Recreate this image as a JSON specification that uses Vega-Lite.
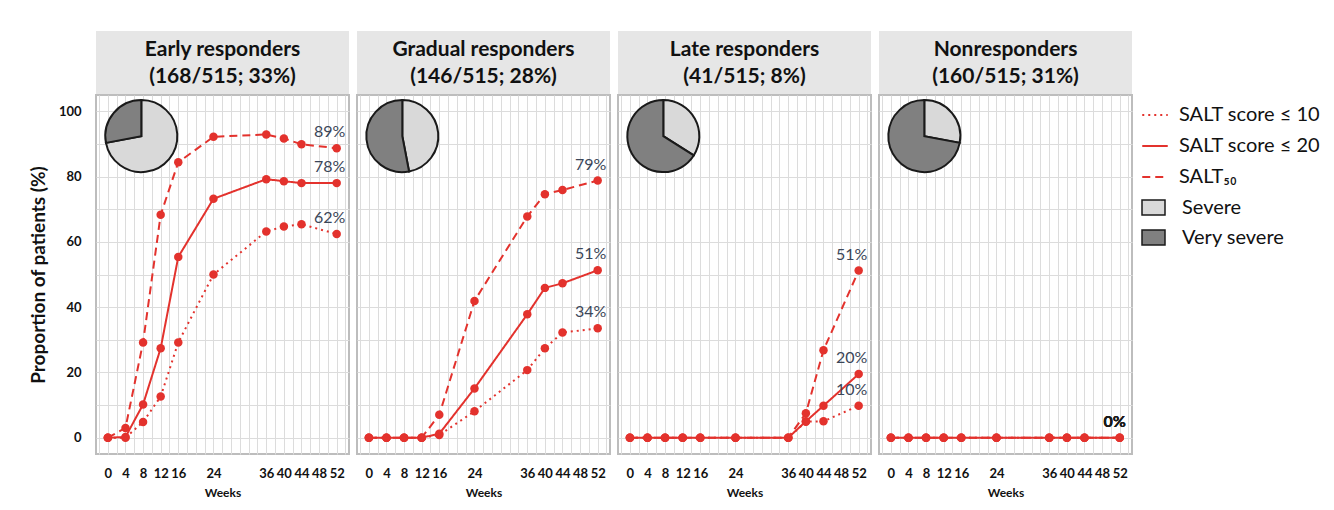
{
  "$schema": "https://vega.github.io/schema/vega-lite/v6.json",
  "padding": {"left": 28, "top": 31, "right": 0, "bottom": 0},
  "background": "white",
  "datasets": {
    "series": [
      {"group":"Early","measure":"SALT score ≤ 10","week":0,"value":0},
      {"group":"Early","measure":"SALT score ≤ 10","week":4,"value":0},
      {"group":"Early","measure":"SALT score ≤ 10","week":8,"value":4.8},
      {"group":"Early","measure":"SALT score ≤ 10","week":12,"value":12.6},
      {"group":"Early","measure":"SALT score ≤ 10","week":16,"value":29.2},
      {"group":"Early","measure":"SALT score ≤ 10","week":24,"value":50.0},
      {"group":"Early","measure":"SALT score ≤ 10","week":36,"value":63.2},
      {"group":"Early","measure":"SALT score ≤ 10","week":40,"value":64.7},
      {"group":"Early","measure":"SALT score ≤ 10","week":44,"value":65.4},
      {"group":"Early","measure":"SALT score ≤ 10","week":52,"value":62.4},
      {"group":"Early","measure":"SALT score ≤ 20","week":0,"value":0},
      {"group":"Early","measure":"SALT score ≤ 20","week":4,"value":0.2},
      {"group":"Early","measure":"SALT score ≤ 20","week":8,"value":10.2},
      {"group":"Early","measure":"SALT score ≤ 20","week":12,"value":27.4},
      {"group":"Early","measure":"SALT score ≤ 20","week":16,"value":55.4},
      {"group":"Early","measure":"SALT score ≤ 20","week":24,"value":73.2},
      {"group":"Early","measure":"SALT score ≤ 20","week":36,"value":79.2},
      {"group":"Early","measure":"SALT score ≤ 20","week":40,"value":78.6},
      {"group":"Early","measure":"SALT score ≤ 20","week":44,"value":78.0},
      {"group":"Early","measure":"SALT score ≤ 20","week":52,"value":78.0},
      {"group":"Early","measure":"SALT₅₀","week":0,"value":0},
      {"group":"Early","measure":"SALT₅₀","week":4,"value":3.0},
      {"group":"Early","measure":"SALT₅₀","week":8,"value":29.2},
      {"group":"Early","measure":"SALT₅₀","week":12,"value":68.3},
      {"group":"Early","measure":"SALT₅₀","week":16,"value":84.4},
      {"group":"Early","measure":"SALT₅₀","week":24,"value":92.2},
      {"group":"Early","measure":"SALT₅₀","week":36,"value":92.9},
      {"group":"Early","measure":"SALT₅₀","week":40,"value":91.7},
      {"group":"Early","measure":"SALT₅₀","week":44,"value":89.9},
      {"group":"Early","measure":"SALT₅₀","week":52,"value":88.7},

      {"group":"Gradual","measure":"SALT score ≤ 10","week":0,"value":0},
      {"group":"Gradual","measure":"SALT score ≤ 10","week":4,"value":0},
      {"group":"Gradual","measure":"SALT score ≤ 10","week":8,"value":0},
      {"group":"Gradual","measure":"SALT score ≤ 10","week":12,"value":0},
      {"group":"Gradual","measure":"SALT score ≤ 10","week":16,"value":0.8},
      {"group":"Gradual","measure":"SALT score ≤ 10","week":24,"value":8.1},
      {"group":"Gradual","measure":"SALT score ≤ 10","week":36,"value":20.7},
      {"group":"Gradual","measure":"SALT score ≤ 10","week":40,"value":27.4},
      {"group":"Gradual","measure":"SALT score ≤ 10","week":44,"value":32.2},
      {"group":"Gradual","measure":"SALT score ≤ 10","week":52,"value":33.5},
      {"group":"Gradual","measure":"SALT score ≤ 20","week":0,"value":0},
      {"group":"Gradual","measure":"SALT score ≤ 20","week":4,"value":0},
      {"group":"Gradual","measure":"SALT score ≤ 20","week":8,"value":0},
      {"group":"Gradual","measure":"SALT score ≤ 20","week":12,"value":0},
      {"group":"Gradual","measure":"SALT score ≤ 20","week":16,"value":1.2},
      {"group":"Gradual","measure":"SALT score ≤ 20","week":24,"value":15.1},
      {"group":"Gradual","measure":"SALT score ≤ 20","week":36,"value":37.8},
      {"group":"Gradual","measure":"SALT score ≤ 20","week":40,"value":45.9},
      {"group":"Gradual","measure":"SALT score ≤ 20","week":44,"value":47.3},
      {"group":"Gradual","measure":"SALT score ≤ 20","week":52,"value":51.3},
      {"group":"Gradual","measure":"SALT₅₀","week":0,"value":0},
      {"group":"Gradual","measure":"SALT₅₀","week":4,"value":0},
      {"group":"Gradual","measure":"SALT₅₀","week":8,"value":0},
      {"group":"Gradual","measure":"SALT₅₀","week":12,"value":0},
      {"group":"Gradual","measure":"SALT₅₀","week":16,"value":7.0},
      {"group":"Gradual","measure":"SALT₅₀","week":24,"value":41.9},
      {"group":"Gradual","measure":"SALT₅₀","week":36,"value":67.8},
      {"group":"Gradual","measure":"SALT₅₀","week":40,"value":74.6},
      {"group":"Gradual","measure":"SALT₅₀","week":44,"value":75.9},
      {"group":"Gradual","measure":"SALT₅₀","week":52,"value":78.8},

      {"group":"Late","measure":"SALT score ≤ 10","week":0,"value":0},
      {"group":"Late","measure":"SALT score ≤ 10","week":4,"value":0},
      {"group":"Late","measure":"SALT score ≤ 10","week":8,"value":0},
      {"group":"Late","measure":"SALT score ≤ 10","week":12,"value":0},
      {"group":"Late","measure":"SALT score ≤ 10","week":16,"value":0},
      {"group":"Late","measure":"SALT score ≤ 10","week":24,"value":0},
      {"group":"Late","measure":"SALT score ≤ 10","week":36,"value":0},
      {"group":"Late","measure":"SALT score ≤ 10","week":40,"value":4.9},
      {"group":"Late","measure":"SALT score ≤ 10","week":44,"value":5.0},
      {"group":"Late","measure":"SALT score ≤ 10","week":52,"value":9.8},
      {"group":"Late","measure":"SALT score ≤ 20","week":0,"value":0},
      {"group":"Late","measure":"SALT score ≤ 20","week":4,"value":0},
      {"group":"Late","measure":"SALT score ≤ 20","week":8,"value":0},
      {"group":"Late","measure":"SALT score ≤ 20","week":12,"value":0},
      {"group":"Late","measure":"SALT score ≤ 20","week":16,"value":0},
      {"group":"Late","measure":"SALT score ≤ 20","week":24,"value":0},
      {"group":"Late","measure":"SALT score ≤ 20","week":36,"value":0},
      {"group":"Late","measure":"SALT score ≤ 20","week":40,"value":5.0},
      {"group":"Late","measure":"SALT score ≤ 20","week":44,"value":9.8},
      {"group":"Late","measure":"SALT score ≤ 20","week":52,"value":19.5},
      {"group":"Late","measure":"SALT₅₀","week":0,"value":0},
      {"group":"Late","measure":"SALT₅₀","week":4,"value":0},
      {"group":"Late","measure":"SALT₅₀","week":8,"value":0},
      {"group":"Late","measure":"SALT₅₀","week":12,"value":0},
      {"group":"Late","measure":"SALT₅₀","week":16,"value":0},
      {"group":"Late","measure":"SALT₅₀","week":24,"value":0},
      {"group":"Late","measure":"SALT₅₀","week":36,"value":0},
      {"group":"Late","measure":"SALT₅₀","week":40,"value":7.5},
      {"group":"Late","measure":"SALT₅₀","week":44,"value":26.8},
      {"group":"Late","measure":"SALT₅₀","week":52,"value":51.2},

      {"group":"Non","measure":"SALT score ≤ 10","week":0,"value":0},
      {"group":"Non","measure":"SALT score ≤ 10","week":4,"value":0},
      {"group":"Non","measure":"SALT score ≤ 10","week":8,"value":0},
      {"group":"Non","measure":"SALT score ≤ 10","week":12,"value":0},
      {"group":"Non","measure":"SALT score ≤ 10","week":16,"value":0},
      {"group":"Non","measure":"SALT score ≤ 10","week":24,"value":0},
      {"group":"Non","measure":"SALT score ≤ 10","week":36,"value":0},
      {"group":"Non","measure":"SALT score ≤ 10","week":40,"value":0},
      {"group":"Non","measure":"SALT score ≤ 10","week":44,"value":0},
      {"group":"Non","measure":"SALT score ≤ 10","week":52,"value":0},
      {"group":"Non","measure":"SALT score ≤ 20","week":0,"value":0},
      {"group":"Non","measure":"SALT score ≤ 20","week":4,"value":0},
      {"group":"Non","measure":"SALT score ≤ 20","week":8,"value":0},
      {"group":"Non","measure":"SALT score ≤ 20","week":12,"value":0},
      {"group":"Non","measure":"SALT score ≤ 20","week":16,"value":0},
      {"group":"Non","measure":"SALT score ≤ 20","week":24,"value":0},
      {"group":"Non","measure":"SALT score ≤ 20","week":36,"value":0},
      {"group":"Non","measure":"SALT score ≤ 20","week":40,"value":0},
      {"group":"Non","measure":"SALT score ≤ 20","week":44,"value":0},
      {"group":"Non","measure":"SALT score ≤ 20","week":52,"value":0},
      {"group":"Non","measure":"SALT₅₀","week":0,"value":0},
      {"group":"Non","measure":"SALT₅₀","week":4,"value":0},
      {"group":"Non","measure":"SALT₅₀","week":8,"value":0},
      {"group":"Non","measure":"SALT₅₀","week":12,"value":0},
      {"group":"Non","measure":"SALT₅₀","week":16,"value":0},
      {"group":"Non","measure":"SALT₅₀","week":24,"value":0},
      {"group":"Non","measure":"SALT₅₀","week":36,"value":0},
      {"group":"Non","measure":"SALT₅₀","week":40,"value":0},
      {"group":"Non","measure":"SALT₅₀","week":44,"value":0},
      {"group":"Non","measure":"SALT₅₀","week":52,"value":0}
    ],
    "labels": [
      {"group":"Early","week":52,"value":88.7,"label":"89%"},
      {"group":"Early","week":52,"value":78.0,"label":"78%"},
      {"group":"Early","week":52,"value":62.4,"label":"62%"},
      {"group":"Gradual","week":52,"value":78.8,"label":"79%"},
      {"group":"Gradual","week":52,"value":51.3,"label":"51%"},
      {"group":"Gradual","week":52,"value":33.5,"label":"34%"},
      {"group":"Late","week":52,"value":51.2,"label":"51%"},
      {"group":"Late","week":52,"value":19.5,"label":"20%"},
      {"group":"Late","week":52,"value":9.8,"label":"10%"},
      {"group":"Non","week":52,"value":0,"label":"0%"},
      {"group":"Non","week":52,"value":0,"label":"0%"},
      {"group":"Non","week":52,"value":0,"label":"0%"}
    ],
    "pie": [
      {"group":"Early","severity":"Severe","pct":72},
      {"group":"Early","severity":"Very severe","pct":28},
      {"group":"Gradual","severity":"Severe","pct":47},
      {"group":"Gradual","severity":"Very severe","pct":53},
      {"group":"Late","severity":"Severe","pct":34},
      {"group":"Late","severity":"Very severe","pct":66},
      {"group":"Non","severity":"Severe","pct":28},
      {"group":"Non","severity":"Very severe","pct":72}
    ]
  },
  "resolve": {"legend": {"color": "independent", "strokeDash": "independent", "fill": "independent"}},
  "spacing": 6,
  "hconcat": [
    {
      "bounds": "flush",
      "spacing": 0,
      "vconcat": [
        {
          "width": 253, "height": 64,
          "view": {"fill": "#e6e6e6", "stroke": null},
          "data": {"values": [{"title": "Early responders\n(168/515; 33%)"}]},
          "mark": {"type": "text", "lineBreak": "\n", "lineHeight": 27, "font": "Lato", "fontSize": 21, "fontWeight": "bold", "color": "#111111", "baseline": "middle", "dy": -13.5},
          "encoding": {"text": {"field": "title"}}
        },
        {
          "width": 253, "height": 359,
          "layer": [
            {
              "encoding": {
                "x": {"field": "week", "type": "quantitative", "scale": {"domain": [-2.7, 54.8], "nice": false, "zero": false},
                      "axis": {"values": [-2,0,2,4,6,8,10,12,14,16,18,20,22,24,26,28,30,32,34,36,38,40,42,44,46,48,50,52,54], "labelExpr": "indexof([0,4,8,12,16,24,36,40,44,48,52], datum.value) >= 0 ? datum.label : ''", "title": "Weeks"}},
                "y": {"field": "value", "type": "quantitative", "scale": {"domain": [-5, 105], "nice": false, "zero": false},
                      "axis": {"values": [0,10,20,30,40,50,60,70,80,90,100], "labelExpr": "datum.value % 20 === 0 ? datum.label : ''", "title": "Proportion of patients (%)"}}
              },
              "layer": [
                {
                  "data": {"name": "series"},
                  "transform": [{"filter": "datum.group === 'Early'"}],
                  "mark": {"type": "line", "strokeWidth": 2},
                  "encoding": {
                    "color": {"field": "measure", "type": "nominal", "scale": {"domain": ["SALT score ≤ 10", "SALT score ≤ 20", "SALT₅₀"], "range": ["#e3322d", "#e3322d", "#e3322d"]}, "legend": null},
                    "strokeDash": {"field": "measure", "type": "nominal", "scale": {"domain": ["SALT score ≤ 10", "SALT score ≤ 20", "SALT₅₀"], "range": [[2, 4], [1, 0], [8, 5]]}, "legend": null}
                  }
                },
                {
                  "data": {"name": "series"},
                  "transform": [{"filter": "datum.group === 'Early'"}],
                  "mark": {"type": "circle", "size": 72, "opacity": 1, "color": "#e3322d"}
                },
                {
                  "data": {"name": "labels"},
                  "transform": [{"filter": "datum.group === 'Early'"}],
                  "mark": {"type": "text", "dx": -7, "dy": -16, "font": "Lato", "fontSize": 16, "color": "#3b4658"},
                  "encoding": {"text": {"field": "label"}}
                }
              ]
            },
            {
              "data": {"name": "pie"},
              "transform": [{"filter": "datum.group === 'Early'"}],
              "mark": {"type": "arc", "outerRadius": 36, "stroke": "#1a1a1a", "strokeWidth": 2},
              "encoding": {
                "theta": {"field": "pct", "type": "quantitative", "stack": true},
                "fill": {"field": "severity", "type": "nominal", "scale": {"domain": ["Severe", "Very severe"], "range": ["#d9d9d9", "#808080"]}, "legend": null},
                "x": {"datum": 7.6, "type": "quantitative",
                      "axis": {"values": [-2,0,2,4,6,8,10,12,14,16,18,20,22,24,26,28,30,32,34,36,38,40,42,44,46,48,50,52,54], "labelExpr": "indexof([0,4,8,12,16,24,36,40,44,48,52], datum.value) >= 0 ? datum.label : ''", "title": "Weeks"}},
                "y": {"datum": 92.4, "type": "quantitative",
                      "axis": {"values": [0,10,20,30,40,50,60,70,80,90,100], "labelExpr": "datum.value % 20 === 0 ? datum.label : ''", "title": "Proportion of patients (%)"}}
              }
            }
          ]
        }
      ]
    },
    {
      "bounds": "flush",
      "spacing": 0,
      "vconcat": [
        {
          "width": 253, "height": 64,
          "view": {"fill": "#e6e6e6", "stroke": null},
          "data": {"values": [{"title": "Gradual responders\n(146/515; 28%)"}]},
          "mark": {"type": "text", "lineBreak": "\n", "lineHeight": 27, "font": "Lato", "fontSize": 21, "fontWeight": "bold", "color": "#111111", "baseline": "middle", "dy": -13.5},
          "encoding": {"text": {"field": "title"}}
        },
        {
          "width": 253, "height": 359,
          "layer": [
            {
              "encoding": {
                "x": {"field": "week", "type": "quantitative", "scale": {"domain": [-2.7, 54.8], "nice": false, "zero": false},
                      "axis": {"values": [-2,0,2,4,6,8,10,12,14,16,18,20,22,24,26,28,30,32,34,36,38,40,42,44,46,48,50,52,54], "labelExpr": "indexof([0,4,8,12,16,24,36,40,44,48,52], datum.value) >= 0 ? datum.label : ''", "title": "Weeks"}},
                "y": {"field": "value", "type": "quantitative", "scale": {"domain": [-5, 105], "nice": false, "zero": false},
                      "axis": {"values": [0,10,20,30,40,50,60,70,80,90,100], "labels": false, "title": null}}
              },
              "layer": [
                {
                  "data": {"name": "series"},
                  "transform": [{"filter": "datum.group === 'Gradual'"}],
                  "mark": {"type": "line", "strokeWidth": 2},
                  "encoding": {
                    "color": {"field": "measure", "type": "nominal", "scale": {"domain": ["SALT score ≤ 10", "SALT score ≤ 20", "SALT₅₀"], "range": ["#e3322d", "#e3322d", "#e3322d"]}, "legend": null},
                    "strokeDash": {"field": "measure", "type": "nominal", "scale": {"domain": ["SALT score ≤ 10", "SALT score ≤ 20", "SALT₅₀"], "range": [[2, 4], [1, 0], [8, 5]]}, "legend": null}
                  }
                },
                {
                  "data": {"name": "series"},
                  "transform": [{"filter": "datum.group === 'Gradual'"}],
                  "mark": {"type": "circle", "size": 72, "opacity": 1, "color": "#e3322d"}
                },
                {
                  "data": {"name": "labels"},
                  "transform": [{"filter": "datum.group === 'Gradual'"}],
                  "mark": {"type": "text", "dx": -7, "dy": -16, "font": "Lato", "fontSize": 16, "color": "#3b4658"},
                  "encoding": {"text": {"field": "label"}}
                }
              ]
            },
            {
              "data": {"name": "pie"},
              "transform": [{"filter": "datum.group === 'Gradual'"}],
              "mark": {"type": "arc", "outerRadius": 36, "stroke": "#1a1a1a", "strokeWidth": 2},
              "encoding": {
                "theta": {"field": "pct", "type": "quantitative", "stack": true},
                "fill": {"field": "severity", "type": "nominal", "scale": {"domain": ["Severe", "Very severe"], "range": ["#d9d9d9", "#808080"]}, "legend": null},
                "x": {"datum": 7.6, "type": "quantitative",
                      "axis": {"values": [-2,0,2,4,6,8,10,12,14,16,18,20,22,24,26,28,30,32,34,36,38,40,42,44,46,48,50,52,54], "labelExpr": "indexof([0,4,8,12,16,24,36,40,44,48,52], datum.value) >= 0 ? datum.label : ''", "title": "Weeks"}},
                "y": {"datum": 92.4, "type": "quantitative",
                      "axis": {"values": [0,10,20,30,40,50,60,70,80,90,100], "labels": false, "title": null}}
              }
            }
          ]
        }
      ]
    },
    {
      "bounds": "flush",
      "spacing": 0,
      "vconcat": [
        {
          "width": 253, "height": 64,
          "view": {"fill": "#e6e6e6", "stroke": null},
          "data": {"values": [{"title": "Late responders\n(41/515; 8%)"}]},
          "mark": {"type": "text", "lineBreak": "\n", "lineHeight": 27, "font": "Lato", "fontSize": 21, "fontWeight": "bold", "color": "#111111", "baseline": "middle", "dy": -13.5},
          "encoding": {"text": {"field": "title"}}
        },
        {
          "width": 253, "height": 359,
          "layer": [
            {
              "encoding": {
                "x": {"field": "week", "type": "quantitative", "scale": {"domain": [-2.7, 54.8], "nice": false, "zero": false},
                      "axis": {"values": [-2,0,2,4,6,8,10,12,14,16,18,20,22,24,26,28,30,32,34,36,38,40,42,44,46,48,50,52,54], "labelExpr": "indexof([0,4,8,12,16,24,36,40,44,48,52], datum.value) >= 0 ? datum.label : ''", "title": "Weeks"}},
                "y": {"field": "value", "type": "quantitative", "scale": {"domain": [-5, 105], "nice": false, "zero": false},
                      "axis": {"values": [0,10,20,30,40,50,60,70,80,90,100], "labels": false, "title": null}}
              },
              "layer": [
                {
                  "data": {"name": "series"},
                  "transform": [{"filter": "datum.group === 'Late'"}],
                  "mark": {"type": "line", "strokeWidth": 2},
                  "encoding": {
                    "color": {"field": "measure", "type": "nominal", "scale": {"domain": ["SALT score ≤ 10", "SALT score ≤ 20", "SALT₅₀"], "range": ["#e3322d", "#e3322d", "#e3322d"]}, "legend": null},
                    "strokeDash": {"field": "measure", "type": "nominal", "scale": {"domain": ["SALT score ≤ 10", "SALT score ≤ 20", "SALT₅₀"], "range": [[2, 4], [1, 0], [8, 5]]}, "legend": null}
                  }
                },
                {
                  "data": {"name": "series"},
                  "transform": [{"filter": "datum.group === 'Late'"}],
                  "mark": {"type": "circle", "size": 72, "opacity": 1, "color": "#e3322d"}
                },
                {
                  "data": {"name": "labels"},
                  "transform": [{"filter": "datum.group === 'Late'"}],
                  "mark": {"type": "text", "dx": -7, "dy": -16, "font": "Lato", "fontSize": 16, "color": "#3b4658"},
                  "encoding": {"text": {"field": "label"}}
                }
              ]
            },
            {
              "data": {"name": "pie"},
              "transform": [{"filter": "datum.group === 'Late'"}],
              "mark": {"type": "arc", "outerRadius": 36, "stroke": "#1a1a1a", "strokeWidth": 2},
              "encoding": {
                "theta": {"field": "pct", "type": "quantitative", "stack": true},
                "fill": {"field": "severity", "type": "nominal", "scale": {"domain": ["Severe", "Very severe"], "range": ["#d9d9d9", "#808080"]}, "legend": null},
                "x": {"datum": 7.6, "type": "quantitative",
                      "axis": {"values": [-2,0,2,4,6,8,10,12,14,16,18,20,22,24,26,28,30,32,34,36,38,40,42,44,46,48,50,52,54], "labelExpr": "indexof([0,4,8,12,16,24,36,40,44,48,52], datum.value) >= 0 ? datum.label : ''", "title": "Weeks"}},
                "y": {"datum": 92.4, "type": "quantitative",
                      "axis": {"values": [0,10,20,30,40,50,60,70,80,90,100], "labels": false, "title": null}}
              }
            }
          ]
        }
      ]
    },
    {
      "bounds": "flush",
      "spacing": 0,
      "resolve": {"legend": {"color": "independent", "strokeDash": "independent", "fill": "independent"}},
      "vconcat": [
        {
          "width": 253, "height": 64,
          "view": {"fill": "#e6e6e6", "stroke": null},
          "data": {"values": [{"title": "Nonresponders\n(160/515; 31%)"}]},
          "mark": {"type": "text", "lineBreak": "\n", "lineHeight": 27, "font": "Lato", "fontSize": 21, "fontWeight": "bold", "color": "#111111", "baseline": "middle", "dy": -13.5},
          "encoding": {"text": {"field": "title"}}
        },
        {
          "width": 253, "height": 359,
          "layer": [
            {
              "encoding": {
                "x": {"field": "week", "type": "quantitative", "scale": {"domain": [-2.7, 54.8], "nice": false, "zero": false},
                      "axis": {"values": [-2,0,2,4,6,8,10,12,14,16,18,20,22,24,26,28,30,32,34,36,38,40,42,44,46,48,50,52,54], "labelExpr": "indexof([0,4,8,12,16,24,36,40,44,48,52], datum.value) >= 0 ? datum.label : ''", "title": "Weeks"}},
                "y": {"field": "value", "type": "quantitative", "scale": {"domain": [-5, 105], "nice": false, "zero": false},
                      "axis": {"values": [0,10,20,30,40,50,60,70,80,90,100], "labels": false, "title": null}}
              },
              "layer": [
                {
                  "data": {"name": "series"},
                  "transform": [{"filter": "datum.group === 'Non'"}],
                  "mark": {"type": "line", "strokeWidth": 2},
                  "encoding": {
                    "color": {"field": "measure", "type": "nominal", "scale": {"domain": ["SALT score ≤ 10", "SALT score ≤ 20", "SALT₅₀"], "range": ["#e3322d", "#e3322d", "#e3322d"]},
                              "legend": {"title": " ", "titleFontSize": 4, "titlePadding": 2, "symbolType": "stroke", "symbolStrokeWidth": 2, "symbolSize": 650, "labelOffset": 10}},
                    "strokeDash": {"field": "measure", "type": "nominal", "scale": {"domain": ["SALT score ≤ 10", "SALT score ≤ 20", "SALT₅₀"], "range": [[2, 4], [1, 0], [8, 5]]},
                              "legend": {"title": " ", "titleFontSize": 4, "titlePadding": 2, "symbolType": "stroke", "symbolStrokeWidth": 2, "symbolSize": 650, "labelOffset": 10}}
                  }
                },
                {
                  "data": {"name": "series"},
                  "transform": [{"filter": "datum.group === 'Non'"}],
                  "mark": {"type": "circle", "size": 72, "opacity": 1, "color": "#e3322d"}
                },
                {
                  "data": {"name": "labels"},
                  "transform": [{"filter": "datum.group === 'Non'"}],
                  "mark": {"type": "text", "dx": -5, "dy": -16, "font": "Lato", "fontSize": 16, "fontWeight": "bold", "color": "#1a1a1a"},
                  "encoding": {"text": {"field": "label"}}
                }
              ]
            },
            {
              "data": {"name": "pie"},
              "transform": [{"filter": "datum.group === 'Non'"}],
              "mark": {"type": "arc", "outerRadius": 36, "stroke": "#1a1a1a", "strokeWidth": 2},
              "encoding": {
                "theta": {"field": "pct", "type": "quantitative", "stack": true},
                "fill": {"field": "severity", "type": "nominal", "scale": {"domain": ["Severe", "Very severe"], "range": ["#d9d9d9", "#808080"]},
                         "legend": {"title": null, "symbolType": "M-1,-0.65H1V0.65H-1Z", "symbolSize": 529, "symbolStrokeColor": "#1a1a1a", "symbolStrokeWidth": 1.5, "labelOffset": 16}},
                "x": {"datum": 7.6, "type": "quantitative",
                      "axis": {"values": [-2,0,2,4,6,8,10,12,14,16,18,20,22,24,26,28,30,32,34,36,38,40,42,44,46,48,50,52,54], "labelExpr": "indexof([0,4,8,12,16,24,36,40,44,48,52], datum.value) >= 0 ? datum.label : ''", "title": "Weeks"}},
                "y": {"datum": 92.4, "type": "quantitative",
                      "axis": {"values": [0,10,20,30,40,50,60,70,80,90,100], "labels": false, "title": null}}
              }
            }
          ]
        }
      ]
    }
  ],
  "config": {
    "view": {"stroke": "#bdbdbd", "strokeWidth": 2},
    "axis": {"grid": true, "gridColor": "#dcdcdc", "gridWidth": 1, "ticks": false, "domain": false, "labelFont": "Lato", "labelFontWeight": "bold", "labelColor": "#111111", "titleFont": "Lato", "titleFontWeight": "bold", "titleColor": "#111111", "labelOverlap": false, "labelFlush": false},
    "axisX": {"labelFontSize": 13, "labelPadding": 13, "titleFontSize": 12, "titlePadding": 7},
    "axisY": {"labelFontSize": 13, "labelPadding": 15, "titleFontSize": 19, "titlePadding": 10},
    "legend": {"labelFont": "Lato", "labelFontSize": 20, "labelColor": "#111111", "padding": 0, "offset": 9, "rowPadding": 7}
  }
}
